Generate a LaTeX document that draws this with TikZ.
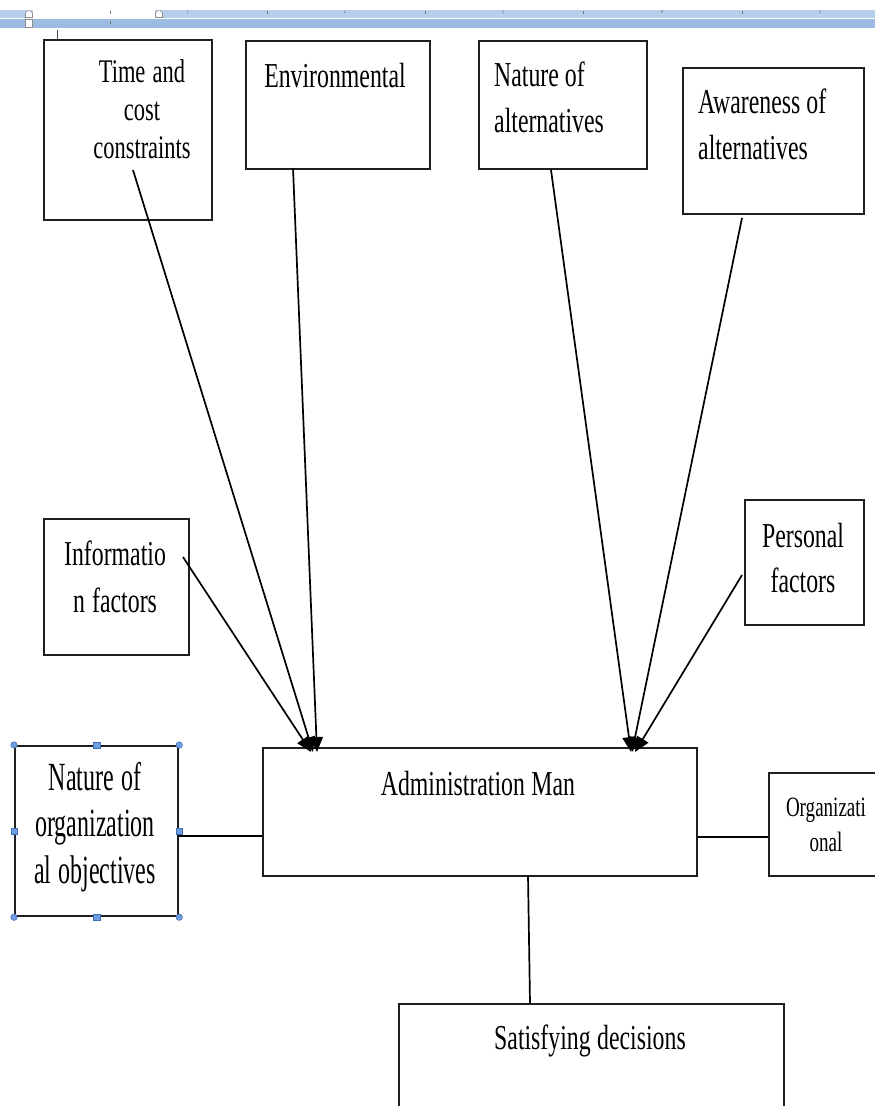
\documentclass[tikz,border=0pt]{standalone}
\usepackage{fontspec}
\setmainfont{Liberation Serif}[FakeStretch=0.68]
\newfontfamily\tallfont{Liberation Serif}[FakeStretch=0.6]
\usetikzlibrary{arrows.meta}
\definecolor{rulerlight}{HTML}{B6CDEC}
\definecolor{rulerdark}{HTML}{9DBCE4}
\definecolor{handlefill}{HTML}{6E9EE0}
\definecolor{handleedge}{HTML}{3E6EB5}
\tikzset{
  box/.style={draw=black!88, line width=2.2pt, inner sep=0pt, anchor=north west},
  txt/.style={inner sep=0pt, font=\fontsize{35}{46}\selectfont, align=center, text width=260pt, anchor=base,
    execute at begin node={\spaceskip=6pt plus 1pt minus 1pt\relax}},
  txtl/.style={txt, align=left, anchor=base west},
  conn/.style={draw=black, line width=1.7pt},
  arrowconn/.style={conn, -{Triangle[length=15pt,width=13pt]}},
  cornerhandle/.style={circle, fill=handlefill, draw=handleedge, line width=0.5pt, minimum size=6.5pt, inner sep=0pt},
  edgehandle/.style={rectangle, fill=handlefill, draw=handleedge, line width=0.5pt, minimum size=6.5pt, inner sep=0pt},
}
\begin{document}
\begin{tikzpicture}[x=1pt, y=-1pt]
\useasboundingbox (0,0) rectangle (875,1106);
\clip (0,0) rectangle (875,1106);

% ---- ruler strip ----
\begin{scope}
  \clip (0,10) rectangle (875,27.5);
  \fill[rulerlight] (0,10) rectangle (875,17.5);
  \fill[white] (33,10) rectangle (155,17.5);
  \fill[rulerdark] (0,18.5) rectangle (875,27.5);
  \foreach \t in {267,425,583,742}
    \draw[black!55, line width=0.8pt] (\t,11) -- (\t,13.5);
  \draw[black!55, line width=0.8pt] (110,11) -- (110,14);
  \draw[black!55, line width=0.8pt] (110,21) -- (110,24);
  \foreach \t/\d in {188/1,345/2,503/3,662/4,820/5}
    \node[inner sep=0pt, font=\fontsize{6}{6}\selectfont, text=black!65] at (\t,11.5) {\d};
  % indent markers
  \draw[fill=white, draw=black!45, line width=0.6pt]
    (25.5,17.5) -- (25.5,13) -- (29,9.5) -- (32.5,13) -- (32.5,17.5) -- cycle;
  \draw[fill=white, draw=black!45, line width=0.6pt] (25.5,19) rectangle (32.5,27);
  \draw[fill=white, draw=black!45, line width=0.6pt]
    (155.5,17.5) -- (155.5,13) -- (159,9.5) -- (162.5,13) -- (162.5,17.5) -- cycle;
\end{scope}
\draw[black!70, line width=0.8pt] (57,30) -- (57,40);

% ---- boxes ----
\node[box, minimum width=168pt, minimum height=180pt] (time) at (43,39) {};
\node[box, minimum width=184pt, minimum height=128pt] (env) at (245,40) {};
\node[box, minimum width=168pt, minimum height=128pt] (natalt) at (478,40) {};
\node[box, minimum width=181pt, minimum height=146pt] (aware) at (682,67) {};
\node[box, minimum width=145pt, minimum height=136pt] (info) at (43,518) {};
\node[box, minimum width=119pt, minimum height=125pt] (pers) at (744,499) {};
\node[box, minimum width=434pt, minimum height=128pt] (admin) at (262,747) {};
\node[box, minimum width=163pt, minimum height=170pt] (orgobj) at (14,745) {};
\node[box, minimum width=120pt, minimum height=103pt] (orgl) at (768,772) {};
\node[box, minimum width=385pt, minimum height=130pt] (satis) at (398,1003) {};

% ---- box texts ----
\node[txt, font=\fontsize{33}{38}\selectfont] (timeT) at (142,82) {Time and\\cost\\constraints};
\node[txt] (envT) at (335,87) {Environmental};
\node[txtl] (natT) at (494,86) {Nature of\\alternatives};
\node[txtl] (awT) at (698,113) {Awareness of\\alternatives};
\node[txt, font=\fontsize{35}{47}\selectfont] (infoT) at (115,565) {Informatio\\n factors};
\node[txt, font=\fontsize{35}{45}\selectfont] (persT) at (803,547) {Personal\\factors};
\node[txt] (adminT) at (478,795) {Administration Man};
\node[txt, font=\tallfont\fontsize{40}{46.5}\selectfont] (orgobjT) at (95,790) {Nature of\\organization\\al objectives};
\node[txt, font=\fontsize{28}{35}\selectfont] (orglT) at (826,816) {Organizati\\onal};
\node[txt] (satisT) at (590,1049) {Satisfying decisions};

% ---- selection handles ----
\foreach \a in {north west,north east,south west,south east}
  \node[cornerhandle] at (orgobj.\a) {};
\foreach \a in {north,south,east,west}
  \node[edgehandle] at (orgobj.\a) {};

% ---- arrow ends ----
\coordinate (timeTail) at (133,170);
\coordinate (envTail) at (293,168);
\coordinate (infoTail) at (183,557);
\coordinate (natTail) at (551,170);
\coordinate (awTail) at (742,218);
\coordinate (persTail) at (742,575);
\coordinate (leftTip) at (313,752);
\coordinate (leftTipB) at (317,752);
\coordinate (leftTipC) at (311,752);
\coordinate (rightTip) at (631,752);
\coordinate (rightTipB) at (632,752);
\coordinate (rightTipC) at (635,752);

\draw[arrowconn] (timeTail) -- (leftTip);
\draw[arrowconn] (envTail) -- (leftTipB);
\draw[arrowconn] (infoTail) -- (leftTipC);
\draw[arrowconn] (natTail) -- (rightTip);
\draw[arrowconn] (awTail) -- (rightTipB);
\draw[arrowconn] (persTail) -- (rightTipC);

% ---- plain links ----
\coordinate (objLink) at (177,836);
\coordinate (orgLink) at (768,837);
\draw[conn] (objLink) -- (objLink -| admin.west);
\draw[conn] (orgLink -| admin.east) -- (orgLink);
\coordinate (adminFoot) at (528,875);
\coordinate (satisHead) at (530,1003);
\draw[conn] (adminFoot) -- (satisHead);
\end{tikzpicture}
\end{document}
